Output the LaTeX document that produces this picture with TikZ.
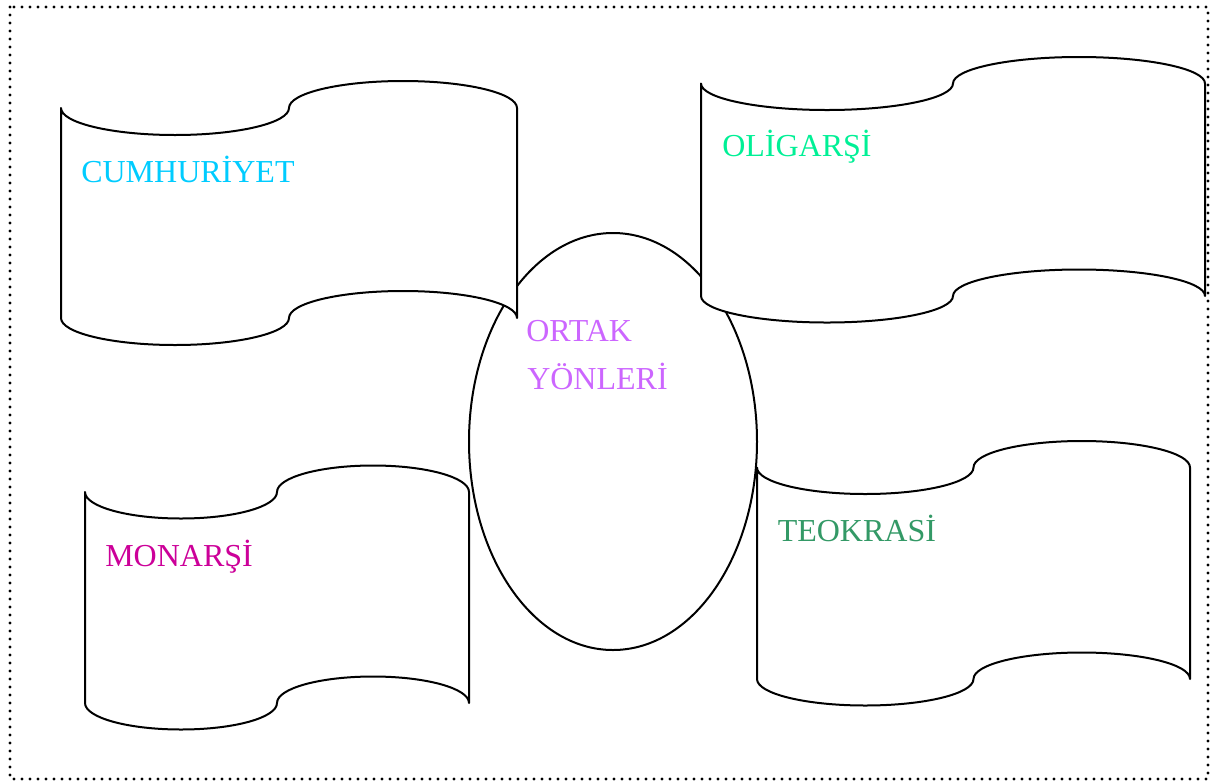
\documentclass[tikz,border=0pt]{standalone}
\usepackage{fontspec}
\setmainfont{Liberation Serif}
\definecolor{cumhcol}{RGB}{0,204,255}
\definecolor{oligcol}{RGB}{0,240,150}
\definecolor{teokcol}{RGB}{51,153,102}
\definecolor{monacol}{RGB}{204,0,153}
\definecolor{ortakcol}{RGB}{204,102,255}
\tikzset{
  outline/.style={draw=black, line width=1.5pt, fill=white, line join=round},
  label/.style={anchor=base west, inner sep=0pt, font=\fontsize{24}{35.5}\selectfont},
  frame/.style={draw=black, line width=2.5pt, line cap=round, dash pattern=on 0pt off 6pt}
}
% Waving banner: #1 left x, #2 right x, #3 y of top ends, #4 y of bottom ends, #5 wave depth
\newcommand\wavebanner[5]{%
  \pgfmathsetmacro\bq{(#2-#1)/4}%
  \path[outline] (#1,#3)
    arc[start angle=180, end angle=0, x radius=\bq, y radius=#5]
    arc[start angle=180, end angle=360, x radius=\bq, y radius=#5]
    -- (#2,#4)
    arc[start angle=0, end angle=-180, x radius=\bq, y radius=#5]
    arc[start angle=0, end angle=180, x radius=\bq, y radius=#5]
    -- cycle;}
\begin{document}
\begin{tikzpicture}[x=0.75pt, y=-0.75pt]
  \useasboundingbox (0,0) rectangle (1221,783);
  % dotted frame
  \draw[frame] (10,7) rectangle (1208,779);
  % central ellipse
  \draw[line width=1.5pt] (613,441.5) ellipse [x radius=144, y radius=208.5];
  % banners
  \wavebanner{61}{517}{108}{318}{27}
  \wavebanner{701}{1205}{83.5}{296}{26.5}
  \wavebanner{757}{1190}{467.5}{679}{26.5}
  \wavebanner{85}{469}{492}{703}{26.5}
  % texts
  \node[label, text=cumhcol] (cumh) at (81,182.5) {CUMHURİYET};
  \node[label, text=oligcol] (olig) at (722,156.5) {OLİGARŞİ};
  \node[label, text=teokcol] (teok) at (777.5,541.5) {TEOKRASİ};
  \node[label, text=monacol] (mona) at (105,566) {MONARŞİ};
  \node[label, text=ortakcol] (ortak) at (526,341.5) {ORTAK};
  \node[label, text=ortakcol] (yon) at (527,389) {YÖNLERİ};
\end{tikzpicture}
\end{document}
